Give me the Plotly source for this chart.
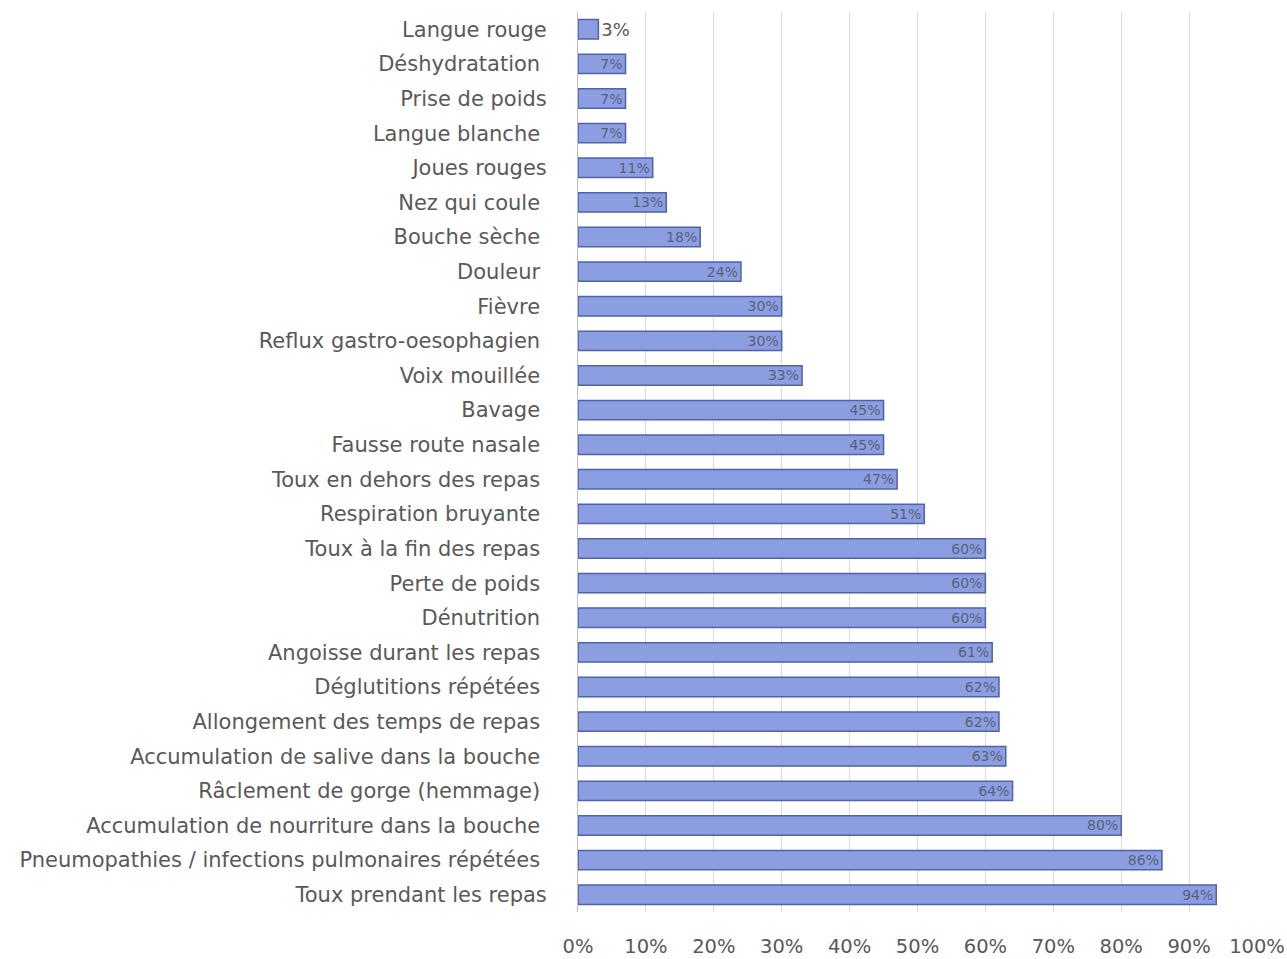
import plotly.graph_objects as go

symptoms = [
    "Langue rouge", "Déshydratation ", "Prise de poids", "Langue blanche ",
    "Joues rouges", "Nez qui coule ", "Bouche sèche ", "Douleur ", "Fièvre ",
    "Reflux gastro-oesophagien ", "Voix mouillée ", "Bavage ",
    "Fausse route nasale ", "Toux en dehors des repas ", "Respiration bruyante ",
    "Toux à la fin des repas ", "Perte de poids ", "Dénutrition ",
    "Angoisse durant les repas ", "Déglutitions répétées ",
    "Allongement des temps de repas ", "Accumulation de salive dans la bouche ",
    "Râclement de gorge (hemmage) ", "Accumulation de nourriture dans la bouche ",
    "Pneumopathies / infections pulmonaires répétées ", "Toux prendant les repas",
]
share = [
    0.03, 0.07, 0.07, 0.07, 0.11, 0.13, 0.18, 0.24, 0.30, 0.30, 0.33, 0.45,
    0.45, 0.47, 0.51, 0.60, 0.60, 0.60, 0.61, 0.62, 0.62, 0.63, 0.64, 0.80,
    0.86, 0.94,
]
x_ticks = [i / 10 for i in range(11)]
x_tick_text = [f"{i * 10}%" for i in range(11)]

labels = [f"{round(v * 100)}%" for v in share]
positions = ["outside" if v < 0.05 else "inside" for v in share]

FONT = "DejaVu Sans"

fig = go.Figure(
    go.Bar(
        x=share,
        y=symptoms,
        orientation="h",
        text=labels,
        textposition=positions,
        insidetextanchor="end",
        constraintext="none",
        textfont=dict(family=FONT, size=14, color="#5a6078"),
        outsidetextfont=dict(family=FONT, size=18, color="#595959"),
        cliponaxis=False,
        marker=dict(color="#8c9ee2", line=dict(color="#5262a8", width=1.5)),
        width=0.56,
        hoverinfo="skip",
    )
)

fig.update_layout(
    width=1287,
    height=959,
    margin=dict(l=578, r=30, t=12, b=47),
    paper_bgcolor="white",
    plot_bgcolor="white",
    showlegend=False,
    font=dict(family=FONT, color="#595959"),
)
fig.update_xaxes(
    range=[0, 1.0],
    tickvals=x_ticks,
    ticktext=x_tick_text,
    showgrid=True,
    gridcolor="#d9d9d9",
    gridwidth=1,
    zeroline=False,
    showline=False,
    automargin=False,
    tickfont=dict(family=FONT, size=19.5, color="#595959"),
    ticklabelstandoff=20,
)
fig.update_yaxes(
    categoryorder="array",
    categoryarray=symptoms[::-1],
    showline=True,
    linecolor="#bfbfbf",
    linewidth=1,
    showgrid=False,
    automargin=False,
    tickfont=dict(family=FONT, size=21, color="#595959"),
    ticklabelstandoff=26,
)

fig.write_html("out.html")
